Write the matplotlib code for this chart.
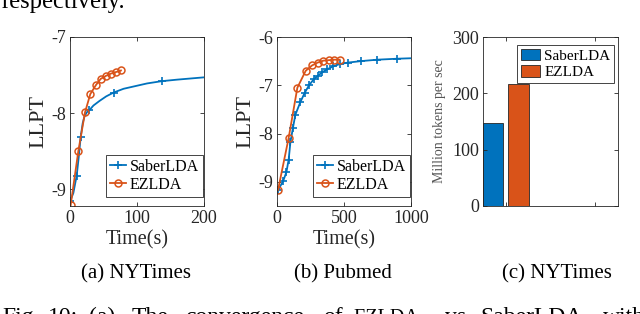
import matplotlib
matplotlib.use("Agg")
import matplotlib.pyplot as plt
import numpy as np

plt.rcParams['font.family'] = ['Liberation Serif', 'DejaVu Serif']
plt.rcParams['axes.unicode_minus'] = False

BLUE = '#0072BD'
ORANGE = '#D95319'
GREY = '#262626'

# (a) NYTimes convergence
nyt_saber_t = [0, 5, 10, 13, 16, 19, 21.4, 25, 29, 35, 44, 54, 65, 80, 95, 115, 137, 160, 180, 200]
nyt_saber_v = [-9.16, -9.05, -8.82, -8.58, -8.31, -8.13, -8.05, -7.99, -7.96, -7.90, -7.84,
               -7.78, -7.73, -7.68, -7.65, -7.61, -7.58, -7.56, -7.545, -7.53]
nyt_saber_marks = [0, 2, 4, 8, 12, 16]
nyt_ez_t = [1, 12.4, 22.4, 30.3, 38.8, 45.8, 53.7, 61.2, 68.7, 76]
nyt_ez_v = [-9.21, -8.50, -7.99, -7.75, -7.63, -7.55, -7.51, -7.48, -7.46, -7.44]

# (b) Pubmed convergence
pub_saber_t = [7.5, 45, 70, 87, 100, 119, 137, 174, 206, 239, 273, 306, 338, 373, 418, 468,
               530, 624, 748, 895, 1000]
pub_saber_v = [-9.17, -8.99, -8.80, -8.54, -8.18, -7.88, -7.61, -7.35, -7.16, -7.00, -6.88,
               -6.80, -6.73, -6.67, -6.61, -6.56, -6.53, -6.50, -6.47, -6.45, -6.44]
pub_ez_t = [7.5, 87, 152, 214, 261, 303, 346, 386, 425, 468]
pub_ez_v = [-9.17, -8.09, -7.05, -6.70, -6.59, -6.53, -6.49, -6.48, -6.47, -6.47]

# (c) throughput
groups = [1, 2]
saber_tps = [147, 0]
ez_tps = [217, 0]

labels = ['SaberLDA', 'EZLDA']

# caption line of the paper (justified, so words are placed one by one)
caption_words = ['Fig.', '10:', '(a)', 'The', 'convergence', 'of', 'EZLDA', 'vs', 'SaberLDA', 'with']
caption_x = [2, 48, 89, 132, 185, 323, 353, 445, 480, 603]


def style_axes(ax):
    for s in ax.spines.values():
        s.set_color(GREY)
        s.set_linewidth(0.6)
    ax.tick_params(direction='in', top=True, right=True, length=3, width=0.6,
                   color=GREY, labelcolor=GREY, labelsize=13, pad=3)


def legend(ax, loc, anchor, fs=11.5, hl=1.0, hh=0.7):
    leg = ax.legend(loc=loc, bbox_to_anchor=anchor, fontsize=fs, frameon=True,
                    fancybox=False, framealpha=1, edgecolor=GREY, handlelength=hl,
                    handleheight=hh, handletextpad=0.25, borderpad=0.25,
                    labelspacing=0.15, borderaxespad=0)
    leg.get_frame().set_linewidth(0.6)
    return leg


fig = plt.figure(figsize=(6.4, 3.14), dpi=100)

# panel a
ax1 = fig.add_axes([70 / 640, 1 - 206 / 314, 134 / 640, 169 / 314])
ax1.plot(nyt_saber_t, nyt_saber_v, '-+', color=BLUE, lw=1.3, ms=6, mew=1.2,
         markevery=nyt_saber_marks, label=labels[0])
ax1.plot(nyt_ez_t, nyt_ez_v, '-o', color=ORANGE, lw=1.3, ms=5, mew=1.1,
         mfc='none', label=labels[1])
ax1.set_xlim(0, 200)
ax1.set_ylim(-9.22, -7)
ax1.set_xticks([0, 100, 200])
ax1.set_yticks([-9, -8, -7])
ax1.set_ylabel('LLPT', fontsize=16, color=GREY, labelpad=2)
ax1.set_xlabel('Time(s)', fontsize=14.5, color=GREY, labelpad=2)
style_axes(ax1)
legend(ax1, 'lower right', (0.993, 0.053))

# panel b
ax2 = fig.add_axes([277 / 640, 1 - 206 / 314, 134 / 640, 169 / 314])
ax2.plot(pub_saber_t, pub_saber_v, '-+', color=BLUE, lw=1.3, ms=6, mew=1.2,
         markevery=list(range(len(pub_saber_t) - 1)), label=labels[0])
ax2.plot(pub_ez_t, pub_ez_v, '-o', color=ORANGE, lw=1.3, ms=5, mew=1.1,
         mfc='none', label=labels[1])
ax2.set_xlim(0, 1000)
ax2.set_ylim(-9.5, -6)
ax2.set_xticks([0, 500, 1000])
ax2.set_yticks([-9, -8, -7, -6])
ax2.set_ylabel('LLPT', fontsize=16, color=GREY, labelpad=2)
ax2.set_xlabel('Time(s)', fontsize=14.5, color=GREY, labelpad=2)
style_axes(ax2)
legend(ax2, 'lower right', (0.993, 0.053))

# panel c
ax3 = fig.add_axes([483 / 640, 1 - 206 / 314, 134.5 / 640, 169 / 314])
x = np.array(groups, dtype=float)
w = 0.229
ax3.bar(x - 0.143, saber_tps, width=w, color=BLUE, edgecolor=GREY, linewidth=0.6,
        label=labels[0])
ax3.bar(x + 0.143, ez_tps, width=w, color=ORANGE, edgecolor=GREY, linewidth=0.6,
        label=labels[1])
ax3.set_xlim(0.743, 2.25)
ax3.set_ylim(0, 300)
ax3.set_xticks(groups)
ax3.set_xticklabels([])
ax3.set_yticks([0, 100, 200, 300])
ax3.set_ylabel('Million tokens per sec', fontsize=10, color='#555555', labelpad=4)
style_axes(ax3)
legend(ax3, 'upper right', (0.974, 0.953), fs=11, hl=1.25, hh=0.8)

# sub-captions and surrounding paper text
fig.text(136 / 640, 1 - 274 / 314, '(a) NYTimes', fontsize=15, color='black',
         ha='center', va='center')
fig.text(343 / 640, 1 - 274 / 314, '(b) Pubmed', fontsize=15, color='black',
         ha='center', va='center')
fig.text(557 / 640, 1 - 274 / 314, '(c) NYTimes', fontsize=15, color='black',
         ha='center', va='center')
fig.text(0.002, 1 - 8 / 314, 'respectively.', fontsize=17.7, color='black', va='baseline')
for word, wx in zip(caption_words, caption_x):
    fs = 14.5 if word == 'EZLDA' else 17
    fig.text(wx / 640, 1 - 323 / 314, word, fontsize=fs, color='black', va='baseline')

fig.savefig('out.png', dpi=100)
